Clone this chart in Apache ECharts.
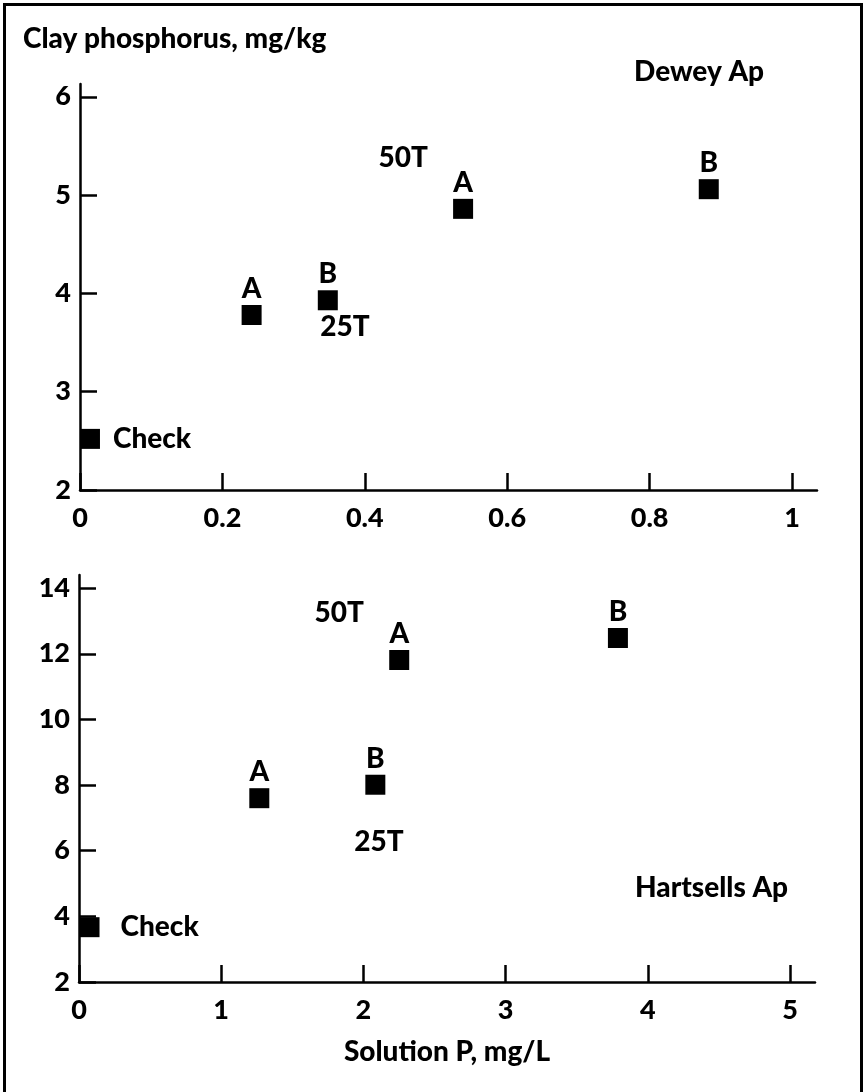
<!DOCTYPE html>
<html>
<head>
<meta charset="utf-8">
<script src="https://cdn.jsdelivr.net/npm/echarts@6/dist/echarts.min.js"></script>
<style>
  html, body { margin: 0; padding: 0; background: #fff; }
  #chart { width: 866px; height: 1092px; }
</style>
</head>
<body>
<div id="chart"></div>
<script>
// Dewey Ap: solution P (mg/L) vs clay phosphorus (mg/kg)
const deweyX = [0.014, 0.241, 0.348, 0.538, 0.883];
const deweyY = [2.52, 3.78, 3.93, 4.86, 5.06];
const deweyTags = ['Check', 'A', 'B', 'A', 'B'];
// Rate group labels (placed in data space)
const deweyGroupText = ['50T', '25T'];
const deweyGroupX = [0.454, 0.372];
const deweyGroupY = [5.38, 3.66];

// Hartsells Ap
const hartX = [0.074, 1.268, 2.084, 2.252, 3.79];
const hartY = [3.67, 7.60, 8.01, 11.81, 12.48];
const hartTags = ['Check', 'A', 'B', 'A', 'B'];
const hartGroupText = ['50T', '25T'];
const hartGroupX = [1.83, 2.11];
const hartGroupY = [13.24, 6.26];

// Axis ticks
const deweyXTicks = [0, 0.2, 0.4, 0.6, 0.8, 1];
const deweyYTicks = [2, 3, 4, 5, 6];
const hartXTicks = [0, 1, 2, 3, 4, 5];
const hartYTicks = [2, 4, 6, 8, 10, 12, 14];

const FONT = 'Lato';
const INK = '#000';

const chart = echarts.init(document.getElementById('chart'), null, { renderer: 'canvas' });

function pointData(xs, ys, tags, checkGap) {
  return xs.map((x, i) => {
    const item = { value: [x, ys[i]], name: tags[i] };
    if (tags[i] === 'Check') {
      item.label = { position: 'right', distance: checkGap };
    }
    return item;
  });
}

function groupData(xs, ys, texts) {
  return xs.map((x, i) => ({ value: [x, ys[i]], name: texts[i] }));
}

const textStyle = { color: INK, fontFamily: FONT, fontWeight: 900, fontSize: 28, opacity: 1 };
const tickText = { ...textStyle, fontSize: 27 };

function xAxis(gridIndex, max, ticks, name) {
  return {
    type: 'value', gridIndex, min: 0, max,
    axisLine: { show: true, lineStyle: { color: INK, width: 2.5 } },
    axisTick: { show: true, inside: true, length: 17, customValues: ticks, lineStyle: { color: INK, width: 2.5 } },
    axisLabel: { customValues: ticks, margin: 15, ...tickText },
    splitLine: { show: false },
    name: name || '',
    nameLocation: 'middle',
    nameGap: 56,
    nameTextStyle: textStyle
  };
}

function yAxis(gridIndex, min, max, ticks) {
  return {
    type: 'value', gridIndex, min, max,
    axisLine: { show: true, lineStyle: { color: INK, width: 2.5 } },
    axisTick: { show: true, inside: true, length: 17, customValues: ticks, lineStyle: { color: INK, width: 2.5 } },
    axisLabel: { customValues: ticks, margin: 9, ...tickText },
    splitLine: { show: false }
  };
}

const markerSeries = (idx, data) => ({
  type: 'scatter',
  xAxisIndex: idx, yAxisIndex: idx,
  symbol: 'rect', symbolSize: 20,
  itemStyle: { color: INK, opacity: 1 },
  clip: false,
  label: {
    show: true, position: 'top', distance: 2,
    formatter: p => p.name,
    ...textStyle
  },
  data
});

const groupSeries = (idx, data) => ({
  type: 'scatter',
  xAxisIndex: idx, yAxisIndex: idx,
  symbolSize: 0,
  itemStyle: { opacity: 1 },
  clip: false,
  silent: true,
  label: { show: true, position: 'inside', formatter: p => p.name, ...textStyle },
  data
});

chart.setOption({
  backgroundColor: '#fff',
  animation: false,
  title: [
    { text: 'Clay phosphorus, mg/kg', left: 23, top: 25, padding: 0, textStyle },
    { text: 'Dewey Ap', left: 634, top: 58, padding: 0, textStyle },
    { text: 'Hartsells Ap', left: 635, top: 874, padding: 0, textStyle }
  ],
  graphic: [{
    type: 'rect', silent: true,
    shape: { x: 4.5, y: 4.5, width: 857, height: 1100 },
    style: { fill: 'none', stroke: INK, lineWidth: 3 }
  }],
  grid: [
    { left: 80, right: 49, top: 84, bottom: 602 },
    { left: 79, right: 51, top: 575, bottom: 110 }
  ],
  xAxis: [
    xAxis(0, 1.035, deweyXTicks),
    xAxis(1, 5.176, hartXTicks, 'Solution P, mg/L')
  ],
  yAxis: [
    yAxis(0, 2, 6.13, deweyYTicks),
    yAxis(1, 2, 14.4, hartYTicks)
  ],
  series: [
    markerSeries(0, pointData(deweyX, deweyY, deweyTags, 13)),
    groupSeries(0, groupData(deweyGroupX, deweyGroupY, deweyGroupText)),
    markerSeries(1, pointData(hartX, hartY, hartTags, 21)),
    groupSeries(1, groupData(hartGroupX, hartGroupY, hartGroupText))
  ]
});
</script>
</body>
</html>
